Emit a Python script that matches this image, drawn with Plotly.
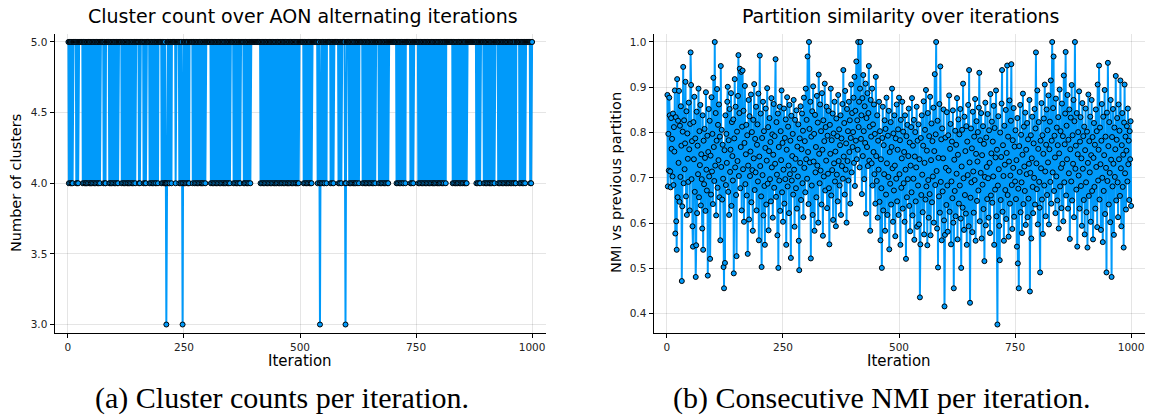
import plotly.graph_objects as go

# ---------------- data ----------------
# cluster count per iteration (iterations 1..1000), groups of 10 digits
cluster_digits = """
5455455454 5555555454 5455555555 5455455454 5545545545
4554554554 5545545545 5555554554 4555555545 4554554554
5545545455 5555545545 5455455454 5545545545 5455455555
5545455555 5545545455 5555545545 5455455454 5554555555
5455455454 4345545545 5545555555 5455555554 5545543455
4554554554 4555555545 5545545545 5455455454 5545545555
5555555455 4554554554 5545545545 5455455454 5545545545
5555554554 5545545545 4555555545 4554554554 5545555555
5555555555 5555455455 4554554554 5545545545 5455455454
5545545545 4554554554 5545455455 4554554554 5455454555
5555555455 4554554554 5545455555 5555555455 5434554554
5545554555 5555545545 5455555555 5545545545 5555554345
5555545545 5455455454 5545554555 5555455455 4554554554
5545545545 5455555554 5545545545 5455455454 5555555555
5555555455 4554554554 5545554555 5555555455 4554555555
5555455455 4554554554 5545545545 5455455454 5545545545
4554554554 5554555555 5555555545 5455455454 5545545545
4554554545 5555555555 5555555554 5545545455 5555545545
5455455454 5545545545 5555554554 5545545545 5455455454
5545545545 4554455555 5545545545 5455455555 5555545455
"""
cluster_counts = [int(c) for c in cluster_digits if c.isdigit()]

# NMI between consecutive partitions (iterations 1..1000)
nmi = [
0.883, 0.681, 0.797, 0.716, 0.877, 0.838, 0.714, 0.679, 0.832, 0.764,
0.786, 0.703, 0.842, 0.684, 0.812, 0.758, 0.893, 0.577, 0.834, 0.604,
0.541, 0.918, 0.657, 0.826, 0.733, 0.892, 0.647, 0.815, 0.702, 0.858,
0.771, 0.472, 0.637, 0.802, 0.945, 0.688, 0.827, 0.719, 0.776, 0.912,
0.659, 0.847, 0.618, 0.798, 0.742, 0.691, 0.866, 0.763, 0.628, 0.819,
0.977, 0.905, 0.697, 0.781, 0.593, 0.548, 0.823, 0.741, 0.879, 0.669,
0.787, 0.481, 0.551, 0.846, 0.622, 0.771, 0.708, 0.897, 0.657, 0.803,
0.728, 0.861, 0.639, 0.752, 0.697, 0.588, 0.838, 0.541, 0.782, 0.686,
0.808, 0.744, 0.627, 0.889, 0.718, 0.672, 0.793, 0.484, 0.757, 0.852,
0.703, 0.826, 0.521, 0.749, 0.663, 0.878, 0.714, 0.797, 0.642, 0.921,
0.768, 0.693, 1.000, 0.727, 0.843, 0.617, 0.782, 0.896, 0.678, 0.817,
0.739, 0.862, 0.657, 0.791, 0.562, 0.947, 0.724, 0.806, 0.652, 0.773,
0.698, 0.503, 0.456, 0.761, 0.512, 0.838, 0.684, 0.797, 0.733, 0.868,
0.901, 0.669, 0.783, 0.618, 0.852, 0.713, 0.762, 0.887, 0.638, 0.823,
0.748, 0.694, 0.829, 0.489, 0.787, 0.918, 0.723, 0.857, 0.662, 0.527,
0.802, 0.737, 0.881, 0.971, 0.704, 0.843, 0.941, 0.677, 0.768, 0.934,
0.628, 0.813, 0.937, 0.719, 0.848, 0.603, 0.777, 0.903, 0.686, 0.752,
0.817, 0.661, 0.794, 0.532, 0.727, 0.872, 0.608, 0.836, 0.704, 0.758,
0.884, 0.646, 0.801, 0.717, 0.583, 0.828, 0.743, 0.907, 0.673, 0.786,
0.712, 0.857, 0.628, 0.773, 0.818, 0.692, 0.886, 0.562, 0.747, 0.970,
0.726, 0.842, 0.659, 0.503, 0.788, 0.706, 0.868, 0.617, 0.803, 0.682,
0.552, 0.766, 0.853, 0.641, 0.738, 0.898, 0.687, 0.812, 0.584, 0.759,
0.832, 0.697, 0.779, 0.648, 0.876, 0.723, 0.796, 0.612, 0.751, 0.863,
0.678, 0.792, 0.731, 0.962, 0.658, 0.823, 0.707, 0.573, 0.842, 0.501,
0.768, 0.694, 0.857, 0.627, 0.803, 0.739, 0.893, 0.668, 0.777, 0.603,
0.718, 0.853, 0.643, 0.788, 0.697, 0.829, 0.552, 0.762, 0.878, 0.681,
0.813, 0.727, 0.622, 0.861, 0.708, 0.782, 0.523, 0.837, 0.694, 0.748,
0.797, 0.663, 0.872, 0.718, 0.592, 0.828, 0.742, 0.677, 0.849, 0.632,
0.769, 0.703, 0.818, 0.561, 0.496, 0.787, 0.733, 0.858, 0.651, 0.763,
0.842, 0.688, 0.804, 0.613, 0.877, 0.722, 0.781, 0.668, 0.897, 0.741,
0.828, 0.698, 0.968, 0.757, 0.642, 1.000, 0.808, 0.734, 0.868, 0.522,
0.791, 0.683, 0.847, 0.618, 0.902, 0.736, 0.797, 0.583, 0.839, 0.712,
0.768, 0.657, 0.881, 0.727, 0.822, 0.601, 0.928, 0.753, 0.688, 0.862,
0.716, 0.803, 0.641, 0.887, 0.762, 0.572, 0.827, 0.703, 0.781, 0.908,
0.672, 0.812, 0.738, 0.857, 0.633, 0.793, 0.709, 0.848, 0.677, 0.553,
0.817, 0.753, 0.897, 0.661, 0.783, 0.717, 0.842, 0.607, 0.798, 0.732,
0.868, 0.692, 0.758, 0.593, 0.831, 0.707, 0.792, 0.648, 0.883, 0.737,
0.807, 0.683, 0.772, 0.838, 0.618, 0.787, 0.726, 0.863, 0.698, 0.938,
0.747, 0.821, 0.663, 0.892, 0.718, 0.776, 0.601, 0.852, 0.737, 0.803,
0.694, 0.868, 0.757, 0.827, 0.643, 0.788, 0.906, 0.712, 0.843, 0.768,
0.801, 0.877, 0.733, 0.923, 0.682, 0.848, 0.782, 0.957, 0.741, 0.827,
0.762, 1.000, 0.812, 0.868, 0.723, 0.897, 1.000, 0.786, 0.838, 0.664,
0.876, 0.748, 0.927, 0.803, 0.697, 0.858, 0.777, 0.908, 0.621, 0.832,
0.768, 0.887, 0.726, 0.843, 0.947, 0.738, 0.813, 0.583, 0.872, 0.791,
0.732, 0.897, 0.683, 0.818, 0.757, 0.862, 0.708, 0.797, 0.643, 0.923,
0.748, 0.693, 0.838, 0.612, 0.782, 0.718, 0.868, 0.647, 0.803, 0.562,
0.741, 0.677, 0.501, 0.788, 0.857, 0.628, 0.772, 0.708, 0.827, 0.583,
0.808, 0.663, 0.877, 0.732, 0.618, 0.793, 0.702, 0.848, 0.542, 0.757,
0.687, 0.823, 0.641, 0.768, 0.897, 0.721, 0.603, 0.798, 0.672, 0.838,
0.727, 0.571, 0.787, 0.698, 0.862, 0.648, 0.762, 0.807, 0.618, 0.877,
0.708, 0.783, 0.552, 0.828, 0.678, 0.743, 0.868, 0.632, 0.802, 0.688,
0.757, 0.603, 0.838, 0.718, 0.521, 0.792, 0.657, 0.817, 0.697, 0.748,
0.853, 0.638, 0.778, 0.582, 0.727, 0.812, 0.668, 0.876, 0.617, 0.771,
0.698, 0.828, 0.563, 0.747, 0.801, 0.648, 0.723, 0.857, 0.592, 0.782,
0.683, 0.818, 0.597, 0.741, 0.436, 0.553, 0.788, 0.662, 0.838, 0.707,
0.624, 0.771, 0.869, 0.575, 0.733, 0.806, 0.652, 0.894, 0.681, 0.760,
0.551, 0.843, 0.695, 0.612, 0.792, 0.664, 0.879, 0.573, 0.739, 0.820,
0.646, 0.781, 0.703, 0.855, 0.601, 0.759, 0.929, 0.684, 0.796, 1.000,
0.715, 0.588, 0.826, 0.502, 0.744, 0.659, 0.863, 0.623, 0.946, 0.691,
0.785, 0.562, 0.809, 0.670, 0.743, 0.851, 0.606, 0.416, 0.574, 0.789,
0.722, 0.640, 0.845, 0.683, 0.581, 0.794, 0.716, 0.882, 0.625, 0.764,
0.819, 0.553, 0.692, 0.780, 0.655, 0.849, 0.601, 0.456, 0.740, 0.671,
0.804, 0.615, 0.773, 0.709, 0.876, 0.564, 0.751, 0.829, 0.643, 0.796,
0.683, 0.852, 0.610, 0.501, 0.725, 0.806, 0.634, 0.908, 0.699, 0.585,
0.835, 0.662, 0.759, 0.621, 0.814, 0.552, 0.780, 0.706, 0.861, 0.593,
0.938, 0.734, 0.424, 0.656, 0.809, 0.690, 0.765, 0.580, 0.846, 0.714,
0.623, 0.791, 0.695, 0.874, 0.561, 0.753, 0.825, 0.649, 0.736, 0.801,
0.672, 0.855, 0.932, 0.604, 0.783, 0.711, 0.843, 0.566, 0.750, 0.685,
0.814, 0.631, 0.775, 0.516, 0.702, 0.866, 0.595, 0.789, 0.724, 0.653,
0.841, 0.699, 0.612, 0.805, 0.733, 0.578, 0.885, 0.661, 0.754, 0.824,
0.645, 0.780, 0.703, 0.859, 0.552, 0.810, 0.674, 0.745, 0.893, 0.615,
0.762, 0.376, 0.683, 0.836, 0.719, 0.594, 0.518, 0.800, 0.651, 0.746,
0.864, 0.938, 0.625, 0.772, 0.704, 0.561, 0.815, 0.729, 0.673, 0.850,
0.609, 0.755, 0.948, 0.662, 0.791, 0.570, 0.736, 0.871, 0.643, 0.705,
0.826, 0.951, 0.684, 0.587, 0.783, 0.722, 0.854, 0.614, 0.769, 0.692,
0.805, 0.653, 0.739, 0.548, 0.832, 0.511, 0.676, 0.456, 0.770, 0.713,
0.861, 0.624, 0.795, 0.690, 0.578, 0.751, 0.886, 0.642, 0.813, 0.725,
0.671, 0.844, 0.596, 0.762, 0.708, 0.821, 0.613, 0.785, 0.654, 0.731,
0.872, 0.449, 0.711, 0.794, 0.566, 0.743, 0.835, 0.680, 0.622, 0.776,
0.700, 0.852, 0.641, 0.809, 0.977, 0.732, 0.675, 0.893, 0.597, 0.764,
0.823, 0.691, 0.634, 0.491, 0.782, 0.721, 0.865, 0.652, 0.794, 0.576,
0.753, 0.831, 0.683, 0.906, 0.714, 0.615, 0.773, 0.851, 0.662, 0.805,
0.734, 0.882, 0.597, 0.763, 0.824, 0.691, 0.915, 0.643, 0.782, 1.000,
0.712, 0.854, 0.968, 0.671, 0.793, 0.745, 0.622, 0.875, 0.703, 0.811,
0.650, 0.772, 0.834, 0.588, 0.754, 0.895, 0.681, 0.803, 0.722, 0.633,
0.864, 0.731, 0.792, 0.604, 0.926, 0.690, 0.774, 0.842, 0.978, 0.661,
0.815, 0.741, 0.883, 0.632, 0.784, 0.710, 0.851, 0.565, 0.763, 0.833,
0.692, 0.905, 0.650, 0.794, 0.731, 0.872, 0.613, 0.825, 1.000, 0.720,
0.771, 0.674, 0.843, 0.548, 0.752, 0.801, 0.705, 0.891, 0.632, 0.780,
0.834, 0.682, 0.743, 0.594, 0.865, 0.720, 0.792, 0.651, 0.813, 0.575,
0.761, 0.853, 0.690, 0.624, 0.802, 0.546, 0.733, 0.884, 0.660, 0.781,
0.712, 0.835, 0.603, 0.750, 0.872, 0.671, 0.790, 0.564, 0.744, 0.821,
0.680, 0.773, 0.632, 0.851, 0.724, 0.803, 0.591, 0.906, 0.694, 0.762,
0.948, 0.652, 0.811, 0.730, 0.585, 0.782, 0.863, 0.700, 0.558, 0.835,
0.671, 0.750, 0.894, 0.620, 0.791, 0.722, 0.491, 0.844, 0.693, 0.954,
0.770, 0.641, 0.823, 0.711, 0.602, 0.872, 0.740, 0.481, 0.790, 0.681,
0.852, 0.731, 0.574, 0.811, 0.702, 0.763, 0.925, 0.650, 0.784, 0.832,
0.690, 0.613, 0.862, 0.741, 0.804, 0.660, 0.915, 0.721, 0.593, 0.772,
0.843, 0.680, 0.751, 0.546, 0.822, 0.906, 0.710, 0.791, 0.630, 0.760,
0.814, 0.692, 0.853, 0.730, 0.782, 0.651, 0.803, 0.741, 0.825, 0.638,
]

iter_clusters = list(range(1, len(cluster_counts) + 1))
iter_nmi = list(range(1, len(nmi) + 1))

x_ticks = [0, 250, 500, 750, 1000]
y_ticks_clusters = [3.0, 3.5, 4.0, 4.5, 5.0]
y_ticks_nmi = [0.4, 0.5, 0.6, 0.7, 0.8, 0.9, 1.0]

titles = ["Cluster count over AON alternating iterations",
          "Partition similarity over iterations"]
ylabels = ["Number of clusters", "NMI vs previous partition"]
xlabel = "Iteration"
captions = ["(a) Cluster counts per iteration.",
            "(b) Consecutive NMI per iteration."]

# ---------------- styling ----------------
W, H = 1152, 418
BLUE = "#009AFA"
SANS = "DejaVu Sans"
SERIF = "Liberation Serif"


def widen(lo, hi, f=0.03):
    p = (hi - lo) * f
    return [lo - p, hi + p]


def px(x):
    return x / W


def py(y):
    return 1 - y / H


fig = go.Figure()
fig.add_trace(go.Scatter(
    x=iter_clusters, y=cluster_counts, mode="lines+markers",
    line=dict(color=BLUE, width=2),
    marker=dict(size=5, color=BLUE, line=dict(color="black", width=1)),
    xaxis="x", yaxis="y", showlegend=False, hoverinfo="skip"))
fig.add_trace(go.Scatter(
    x=iter_nmi, y=nmi, mode="lines+markers",
    line=dict(color=BLUE, width=2),
    marker=dict(size=5, color=BLUE, line=dict(color="black", width=1)),
    xaxis="x2", yaxis="y2", showlegend=False, hoverinfo="skip"))

common_axis = dict(
    showgrid=True, gridcolor="rgba(0,0,0,0.10)", gridwidth=1,
    zeroline=False, showline=True, linecolor="black", linewidth=1,
    ticks="outside", ticklen=4, tickcolor="black", tickwidth=1,
    tickfont=dict(family=SANS, size=10.5, color="#222222"),
    mirror=False,
)

left_dom = [px(54.5), px(546)]
right_dom = [px(653.5), px(1145)]
y_dom = [py(333), py(33.5)]

fig.update_layout(
    width=W, height=H,
    margin=dict(l=0, r=0, t=0, b=0),
    paper_bgcolor="white", plot_bgcolor="white",
    xaxis=dict(common_axis, domain=left_dom, anchor="y",
               range=widen(min(iter_clusters), max(iter_clusters)),
               tickvals=x_ticks, ticktext=[str(v) for v in x_ticks]),
    yaxis=dict(common_axis, domain=y_dom, anchor="x",
               range=widen(min(cluster_counts), max(cluster_counts)),
               tickvals=y_ticks_clusters,
               ticktext=[f"{v:.1f}" for v in y_ticks_clusters]),
    xaxis2=dict(common_axis, domain=right_dom, anchor="y2",
                range=widen(min(iter_nmi), max(iter_nmi)),
                tickvals=x_ticks, ticktext=[str(v) for v in x_ticks]),
    yaxis2=dict(common_axis, domain=y_dom, anchor="x2",
                range=widen(min(nmi), max(nmi)),
                tickvals=y_ticks_nmi,
                ticktext=[f"{v:.1f}" for v in y_ticks_nmi]),
)

ann = []
centers = [(left_dom[0] + left_dom[1]) / 2, (right_dom[0] + right_dom[1]) / 2]
title_x = [px(302.5), px(900.5)]
for i in range(2):
    ann.append(dict(text=titles[i], x=title_x[i], y=py(16), xref="paper", yref="paper",
                    showarrow=False, xanchor="center", yanchor="middle",
                    font=dict(family=SANS, size=19, color="black")))
    ann.append(dict(text=xlabel, x=centers[i], y=py(361), xref="paper", yref="paper",
                    showarrow=False, xanchor="center", yanchor="middle",
                    font=dict(family=SANS, size=15, color="black")))
ann.append(dict(text=ylabels[0], x=px(16), y=py(183), xref="paper", yref="paper",
                showarrow=False, xanchor="center", yanchor="middle", textangle=-90,
                font=dict(family=SANS, size=14.5, color="black")))
ann.append(dict(text=ylabels[1], x=px(616), y=py(183), xref="paper", yref="paper",
                showarrow=False, xanchor="center", yanchor="middle", textangle=-90,
                font=dict(family=SANS, size=14.5, color="black")))
ann.append(dict(text=captions[0], x=px(281.5), y=py(398), xref="paper", yref="paper",
                showarrow=False, xanchor="center", yanchor="middle",
                font=dict(family=SERIF, size=30, color="black")))
ann.append(dict(text=captions[1], x=px(881), y=py(398), xref="paper", yref="paper",
                showarrow=False, xanchor="center", yanchor="middle",
                font=dict(family=SERIF, size=30, color="black")))
fig.update_layout(annotations=ann)

fig.write_html("out.html")
